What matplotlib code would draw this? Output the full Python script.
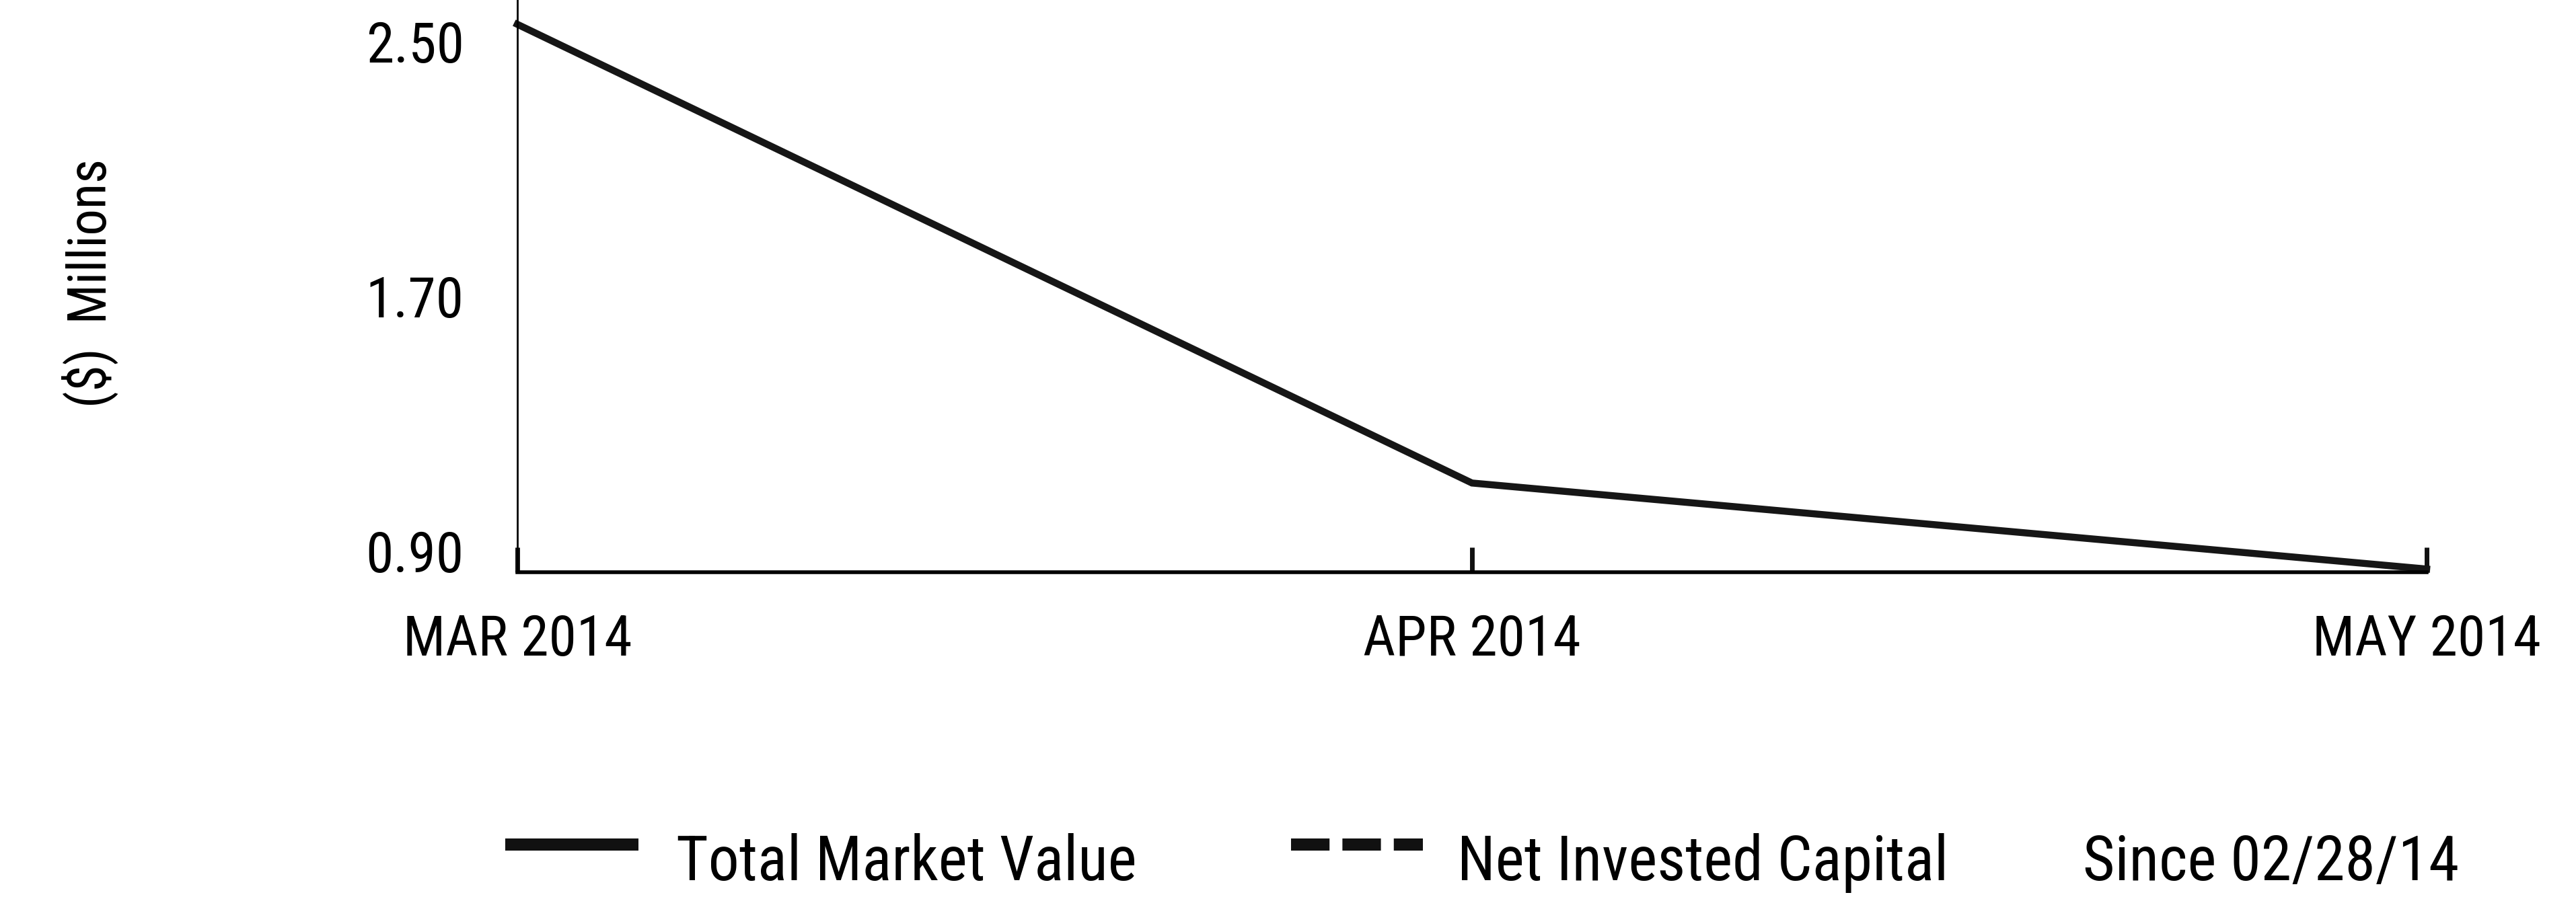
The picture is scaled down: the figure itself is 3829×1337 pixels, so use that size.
import matplotlib
matplotlib.use("Agg")
import matplotlib.pyplot as plt
from matplotlib import font_manager as fm
from matplotlib.lines import Line2D
import numpy as np

# data ($ millions)
months = ['MAR 2014', 'APR 2014', 'MAY 2014']
total_market_value = [2.62, 1.18, 0.91]
y_ticks = [0.90, 1.70, 2.50]
legend_labels = ['Total Market Value', 'Net Invested Capital']
since_label = 'Since 02/28/14'

W, H = 3829, 1337


def pick_narrow_font():
    # the original uses a condensed face; take whatever condensed face is installed
    for fam in ['Liberation Sans Narrow', 'Roboto Condensed', 'Noto Sans Condensed',
                'Open Sans Condensed', 'DejaVu Sans Condensed']:
        try:
            fm.findfont(fm.FontProperties(family=fam), fallback_to_default=False)
            return fam, 'normal'
        except ValueError:
            pass
    for fam in ['Roboto', 'Noto Sans', 'DejaVu Sans', 'Open Sans']:
        p = fm.findfont(fm.FontProperties(family=fam, stretch='condensed'))
        if 'ondensed' in p or 'Narrow' in p:
            return fam, 'condensed'
    return 'Liberation Sans', 'normal'


FAM, STRETCH = pick_narrow_font()
plt.rcParams['font.family'] = [FAM, 'DejaVu Sans']
plt.rcParams['font.stretch'] = STRETCH

fig = plt.figure(figsize=(W / 100, H / 100), dpi=100)
renderer = fig.canvas.get_renderer()


def fit_size(s, target_px, weight='normal'):
    t = fig.text(0, 0, s, fontsize=100, fontstretch=STRETCH, fontweight=weight)
    w = t.get_window_extent(renderer).width
    t.remove()
    return 100 * target_px / w


tick_fs = fit_size('MAY 2014', 340)
leg_fs = fit_size('Total Market Value', 685)
ylab_fs = fit_size('($)  Millions', 370)

# axes box in pixels of the reference
x0, x1 = 769, 3607
ybot = 851
ax = fig.add_axes([x0 / W, 1 - ybot / H, (x1 - x0) / W, ybot / H])

x = np.arange(len(months))
ax.plot(x, total_market_value, color='#161616', lw=7.5, solid_joinstyle='miter', clip_on=False)

px_per_unit = 379 / 0.8
ax.set_xlim(0, len(months) - 1)
ax.set_ylim(0.90, 0.90 + ybot / px_per_unit)

ax.set_xticks(x)
ax.set_xticklabels(months, fontsize=tick_fs)
ax.set_yticks(y_ticks)
ax.set_yticklabels(['%.2f' % v for v in y_ticks], fontsize=tick_fs)
for lab in ax.get_yticklabels():
    lab.set_va('baseline')

ax.tick_params(axis='x', direction='in', length=27, width=5, pad=44, color='#111')
ax.tick_params(axis='y', length=0, pad=57)

for s in ['top', 'right']:
    ax.spines[s].set_visible(False)
ax.spines['left'].set_linewidth(2)
ax.spines['bottom'].set_linewidth(4)

ax.set_ylabel('($)  Millions', fontsize=ylab_fs, va='center')
ax.yaxis.set_label_coords((134 - x0) / (x1 - x0), (ybot - 421) / ybot)

# legend row drawn by hand along the bottom
ly = 1 - 1256 / H
ty = 1 - 1309 / H
fig.add_artist(Line2D([751 / W, 949 / W], [ly, ly], color='#111', lw=13,
                      solid_capstyle='butt'))
fig.text(1005 / W, ty, legend_labels[0], fontsize=leg_fs, va='baseline')
fig.add_artist(Line2D([1919 / W, 2115 / W], [ly, ly], color='#111', lw=13,
                      linestyle=(0, (3.17, 1.06)), dash_capstyle='butt'))
fig.text(2166 / W, ty, legend_labels[1], fontsize=leg_fs, va='baseline')
fig.text(3096 / W, ty, since_label, fontsize=leg_fs, va='baseline')

fig.savefig('out.png', dpi=100)
